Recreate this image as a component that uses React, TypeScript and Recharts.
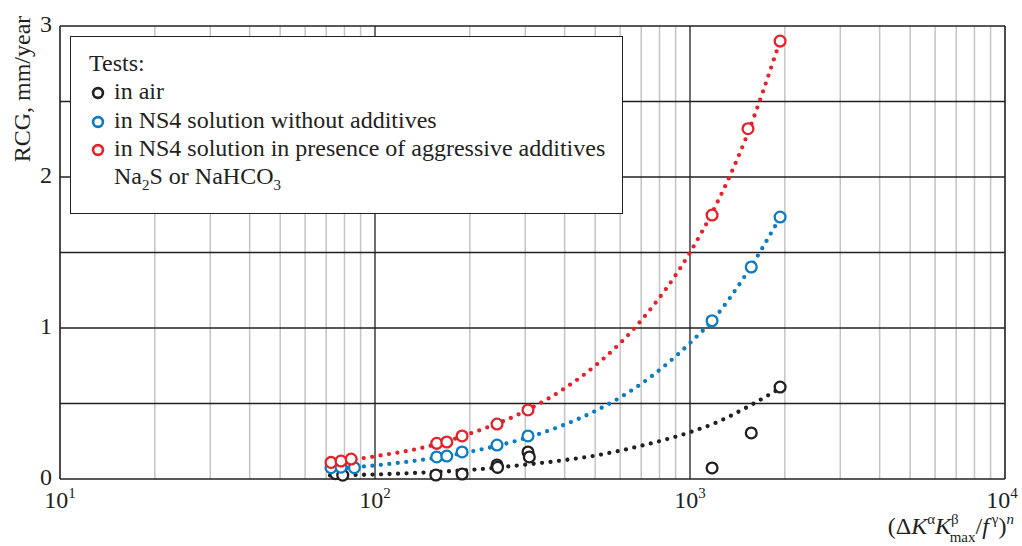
import React from 'react';
import { ComposedChart, XAxis, YAxis, Scatter, Line, ReferenceLine, Legend } from 'recharts';

const FONT = '"Liberation Serif", "Times New Roman", serif';
const INK = '#231f20';
const RED = '#e8202a';
const BLUE = '#0a7cc4';
const GRID_MINOR = '#c4c4c4';

// axes
const xTicks = [10, 100, 1000, 10000];
const xTickPowers = ['1', '2', '3', '4'];
const yTicks = [0, 1, 2, 3];
const majorX = [100, 1000];
const minorX = [
  20, 30, 40, 50, 60, 70, 80, 90,
  200, 300, 400, 500, 600, 700, 800, 900,
  2000, 3000, 4000, 5000, 6000, 7000, 8000, 9000,
];
const gridY = [0.5, 1, 1.5, 2, 2.5];

// measured points
const airX = [75, 79, 156, 189, 244, 245, 306, 309, 1175, 1565, 1932];
const airY = [0.035, 0.025, 0.026, 0.033, 0.093, 0.077, 0.179, 0.146, 0.073, 0.305, 0.609];

const ns4X = [72.5, 78, 86, 157, 169, 189, 244, 306, 1175, 1565, 1932];
const ns4Y = [0.075, 0.078, 0.075, 0.146, 0.152, 0.179, 0.225, 0.285, 1.048, 1.404, 1.735];

const aggrX = [72.5, 78, 84, 157, 169, 189, 244, 306, 1175, 1528, 1932];
const aggrY = [0.11, 0.119, 0.132, 0.236, 0.245, 0.285, 0.364, 0.457, 1.748, 2.32, 2.9];

// dotted trend lines
const fitX = [72, 100, 150, 200, 300, 400, 500, 700, 1000, 1200, 1500, 1930];
const airFitY = [0.024, 0.03, 0.045, 0.06, 0.095, 0.125, 0.155, 0.22, 0.31, 0.37, 0.47, 0.6];
const ns4FitY = [0.065, 0.09, 0.135, 0.18, 0.27, 0.36, 0.45, 0.63, 0.9, 1.07, 1.35, 1.73];
const aggrFitY = [0.11, 0.15, 0.22, 0.3, 0.45, 0.6, 0.75, 1.05, 1.5, 1.8, 2.25, 2.9];

const legendNames = [
  'in air',
  'in NS4 solution without additives',
  'in NS4 solution in presence of aggressive additives',
];
const legendColors = [INK, BLUE, RED];

const zip = (xs: number[], ys: number[]) => xs.map((x, i) => ({ x, y: ys[i] }));

const airPts = zip(airX, airY);
const ns4Pts = zip(ns4X, ns4Y);
const aggrPts = zip(aggrX, aggrY);
const airFit = zip(fitX, airFitY);
const ns4Fit = zip(fitX, ns4FitY);
const aggrFit = zip(fitX, aggrFitY);

const ring = (color: string) => (props: any) => (
  <circle cx={props.cx} cy={props.cy} r={5.4} fill="#fff" stroke={color} strokeWidth={2.3} />
);

function XTick(props: any) {
  const { x, y, payload } = props;
  const idx = xTicks.indexOf(payload.value);
  return (
    <text x={x} y={y + 29} textAnchor="middle" fontFamily={FONT} fontSize={24} fill={INK}>
      <tspan>10</tspan>
      <tspan dy={-10} fontSize={15}>{xTickPowers[idx]}</tspan>
    </text>
  );
}

function YTick(props: any) {
  const { x, y, payload } = props;
  return (
    <text x={x} y={y + 6} textAnchor="end" fontFamily={FONT} fontSize={24} fill={INK}>
      {payload.value}
    </text>
  );
}

function XTitle(props: any) {
  const vb = props.viewBox || { x: 60, y: 479, width: 945 };
  return (
    <text x={vb.x + vb.width + 9} y={vb.y + 55} textAnchor="end" fontFamily={FONT} fontSize={24} fill={INK}>
      <tspan>(Δ</tspan>
      <tspan fontStyle="italic">K</tspan>
      <tspan dy={-10} fontSize={15}>α</tspan>
      <tspan dy={10} fontStyle="italic">K</tspan>
      <tspan dy={-10} fontSize={15}>β</tspan>
      <tspan dx={-9} dy={18} fontSize={15}>max</tspan>
      <tspan dy={-8}>/</tspan>
      <tspan fontStyle="italic">f</tspan>
      <tspan dx={3} dy={-10} fontSize={15}>γ</tspan>
      <tspan dy={10}>)</tspan>
      <tspan dy={-10} fontSize={15} fontStyle="italic">n</tspan>
    </text>
  );
}

function YTitle() {
  return (
    <text x={30} y={89} transform="rotate(-90, 30, 89)" textAnchor="middle" fontFamily={FONT} fontSize={24} fill={INK}>
      RCG, mm/year
    </text>
  );
}

const subStyle: React.CSSProperties = { fontSize: 15, position: 'relative', top: 6 };

const renderLegend = () => (
  <div
    style={{
      boxSizing: 'border-box',
      width: 553,
      height: 178,
      border: `1.5px solid ${INK}`,
      background: '#fff',
      padding: '12px 0 0 18px',
      fontFamily: FONT,
      fontSize: 24,
      lineHeight: '28.3px',
      color: INK,
      whiteSpace: 'nowrap',
    }}
  >
    <div>Tests:</div>
    {legendNames.map((name, i) => (
      <div key={name}>
        <svg width={14} height={14} style={{ marginLeft: 2, marginRight: 9, verticalAlign: -1 }}>
          <circle cx={7} cy={7} r={4.9} fill="#fff" stroke={legendColors[i]} strokeWidth={2.6} />
        </svg>
        {name}
      </div>
    ))}
    <div style={{ paddingLeft: 25 }}>
      Na<span style={subStyle}>2</span>S or NaHCO<span style={subStyle}>3</span>
    </div>
  </div>
);

const dotted = { strokeWidth: 4.3, strokeDasharray: '0 8.5', strokeLinecap: 'round' as const };

export default function App() {
  return (
    <div style={{ position: 'absolute', left: 0, top: 0, width: 1022, height: 546, background: '#fff' }}>
      <ComposedChart width={1022} height={546} margin={{ top: 26, right: 17, bottom: 0, left: 0 }}>
        <XAxis
          dataKey="x"
          type="number"
          scale="log"
          domain={[10, 10000]}
          ticks={xTicks}
          allowDataOverflow
          height={67}
          tickSize={0}
          tickMargin={0}
          axisLine={false}
          tick={<XTick />}
          label={(p: any) => <XTitle {...p} />}
        />
        <YAxis
          dataKey="y"
          type="number"
          domain={[0, 3]}
          ticks={yTicks}
          width={60}
          tickSize={0}
          tickMargin={8}
          axisLine={false}
          tick={<YTick />}
          label={<YTitle />}
        />
        {minorX.map((v) => (
          <ReferenceLine key={'m' + v} x={v} stroke={GRID_MINOR} strokeWidth={1.5} />
        ))}
        {majorX.map((v) => (
          <ReferenceLine key={'M' + v} x={v} stroke={INK} strokeWidth={1.3} />
        ))}
        {gridY.map((v) => (
          <ReferenceLine key={'y' + v} y={v} stroke={INK} strokeWidth={1.3} />
        ))}
        <ReferenceLine x={10} stroke={INK} strokeWidth={1.6} />
        <ReferenceLine x={10000} stroke={INK} strokeWidth={1.6} />
        <ReferenceLine y={0} stroke={INK} strokeWidth={1.6} />
        <ReferenceLine y={3} stroke={INK} strokeWidth={1.6} />

        <Line data={airFit} dataKey="y" type="monotone" stroke={INK} {...dotted} dot={false} activeDot={false} isAnimationActive={false} />
        <Line data={ns4Fit} dataKey="y" type="monotone" stroke={BLUE} {...dotted} dot={false} activeDot={false} isAnimationActive={false} />
        <Line data={aggrFit} dataKey="y" type="monotone" stroke={RED} {...dotted} dot={false} activeDot={false} isAnimationActive={false} />

        <Scatter data={airPts} shape={ring(INK)} isAnimationActive={false} />
        <Scatter data={ns4Pts} shape={ring(BLUE)} isAnimationActive={false} />
        <Scatter data={aggrPts} shape={ring(RED)} isAnimationActive={false} />

        <Legend
          layout="vertical"
          verticalAlign="middle"
          align="center"
          content={renderLegend}
          wrapperStyle={{ left: 70, top: 36, width: 553, height: 178 }}
        />
      </ComposedChart>
    </div>
  );
}
